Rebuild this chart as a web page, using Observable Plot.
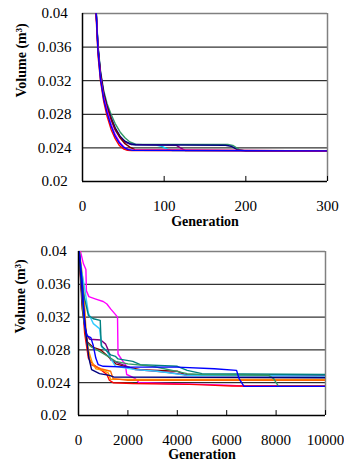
<!DOCTYPE html>
<html>
<head>
<meta charset="utf-8">
<script src="https://cdn.jsdelivr.net/npm/d3@7"></script>
<script src="https://cdn.jsdelivr.net/npm/@observablehq/plot@0.6"></script>
<style>
  html, body { margin: 0; padding: 0; background: #fff; }
  #chart svg { display: block; font-family: "Liberation Serif", serif !important; font-size: 15px; overflow: hidden; }
  #chart svg text, #chart svg g { font-family: "Liberation Serif", serif !important; }
</style>
</head>
<body>
<div id="chart"></div>
<script>
// ---------- shared labels ----------
const yLabel = "Volume (m\u00B3)";
const xLabel = "Generation";
const yTicks = [0.02, 0.024, 0.028, 0.032, 0.036, 0.04];
const yTickLabels = ["0.02", "0.024", "0.028", "0.032", "0.036", "0.04"];
const yGrid = [0.024, 0.028, 0.032, 0.036];

// ---------- top chart (0-300 generations) ----------
const topXTicks = [0, 100, 200, 300];
const topRed = [[15,0.042],[17,0.039],[19,0.035],[22,0.032],[26,0.0295],[30,0.0278],[35,0.0262],[40,0.0251],[45,0.0243],[50,0.0239],[55,0.02372],[60,0.02368],[300,0.02365]];
const topMagenta = [[15,0.042],[17,0.0395],[19,0.0356],[22,0.0324],[26,0.0300],[30,0.0285],[35,0.0268],[40,0.0256],[46,0.0246],[52,0.0240],[58,0.02375],[300,0.02365]];
const topMaroon = [[15,0.042],[17,0.0397],[19,0.0358],[22,0.0327],[26,0.0303],[30,0.0288],[35,0.0274],[40,0.0262],[46,0.0252],[52,0.0245],[58,0.0241],[64,0.0238],[300,0.02365]];
const topNavy = [[15,0.042],[17,0.0398],[19,0.036],[22,0.033],[26,0.0305],[30,0.029],[35,0.0276],[40,0.0264],[46,0.0254],[52,0.0248],[58,0.0245],[65,0.02438],[120,0.02435],[175,0.02432],[182,0.0242],[190,0.02375],[200,0.02365],[300,0.02365]];
const topPurple = [[15,0.042],[17,0.0397],[19,0.0359],[22,0.0329],[26,0.0304],[30,0.0289],[35,0.0275],[40,0.0263],[46,0.0253],[52,0.0247],[60,0.0244],[115,0.0243],[120,0.0240],[126,0.02368],[300,0.02365]];
const topCyan = [[15,0.042],[17,0.0398],[19,0.036],[22,0.0328],[26,0.0303],[30,0.0287],[35,0.0272],[40,0.0261],[46,0.0252],[52,0.0247],[60,0.0244],[90,0.02435],[97,0.0242],[105,0.0238],[110,0.02368],[300,0.02365]];
const topGreen = [[15,0.042],[17,0.04],[19,0.0362],[22,0.0332],[26,0.0308],[30,0.0293],[35,0.028],[40,0.0269],[46,0.0259],[52,0.0252],[58,0.0247],[65,0.02445],[120,0.02442],[178,0.0244],[184,0.0243],[192,0.0238],[200,0.02365],[300,0.02365]];
const topBlue = [[15,0.042],[17,0.0395],[19,0.0355],[22,0.0322],[26,0.0298],[30,0.0282],[35,0.0266],[40,0.0254],[45,0.0246],[50,0.0241],[56,0.0238],[62,0.0237],[300,0.02365]];
const topSeries = [
  ["#339966", topGreen], ["#00ccff", topCyan], ["#800080", topPurple], ["#000080", topNavy],
  ["#800000", topMaroon], ["#ff00ff", topMagenta], ["#ff0000", topRed], ["#0000ff", topBlue]
];

// ---------- bottom chart (0-10000 generations) ----------
const botXTicks = [0, 2000, 4000, 6000, 8000, 10000];
const botMagenta = [[0,0.041],[200,0.0385],[300,0.0378],[320,0.0352],[420,0.0345],[700,0.0342],[1000,0.0339],[1150,0.0336],[1300,0.0330],[1500,0.0323],[1580,0.0320],[1600,0.0275],[1800,0.0266],[1900,0.0262],[1950,0.0250],[2100,0.0248],[2300,0.0245],[2450,0.0240],[3500,0.0239],[5000,0.0238],[6000,0.0237],[6600,0.0236],[10000,0.0236]];
const botRed = [[0,0.041],[150,0.034],[250,0.030],[400,0.0270],[600,0.0262],[900,0.0256],[1150,0.0250],[1250,0.0243],[1400,0.0240],[2200,0.0239],[4500,0.0238],[5300,0.0237],[6200,0.0236],[10000,0.0236]];
const botNavy = [[0,0.041],[150,0.035],[300,0.030],[420,0.0270],[530,0.0256],[850,0.0251],[1250,0.0249],[1420,0.0247],[10000,0.0246]];
const botPurple = [[0,0.041],[150,0.034],[300,0.0300],[450,0.0293],[900,0.0292],[1100,0.0287],[1200,0.0280],[1300,0.0268],[1700,0.0263],[2300,0.0256],[3500,0.0253],[4500,0.0249],[10000,0.0248]];
const botMaroon = [[0,0.041],[150,0.033],[350,0.0290],[600,0.0283],[900,0.0280],[1200,0.0272],[1500,0.0263],[2000,0.0259],[2500,0.0256],[4000,0.0254],[4300,0.0250],[10000,0.0249]];
const botOrange = [[0,0.041],[200,0.036],[300,0.0305],[400,0.0280],[550,0.0265],[700,0.0257],[1000,0.0255],[1200,0.0252],[1300,0.0244],[10000,0.0244]];
const botDarkOrange = [[0,0.041],[200,0.035],[300,0.0300],[400,0.0275],[500,0.0262],[900,0.0257],[1300,0.0254],[1400,0.0245],[2000,0.0243],[10000,0.0243]];
const botCyan = [[0,0.041],[100,0.038],[250,0.0355],[400,0.0325],[600,0.0312],[850,0.0306],[950,0.0283],[1150,0.0279],[1250,0.0272],[1500,0.0260],[2300,0.0256],[3200,0.0254],[4400,0.0249],[10000,0.0248]];
const botTeal = [[0,0.041],[200,0.0349],[400,0.0322],[600,0.0318],[880,0.0316],[920,0.0285],[1300,0.0274],[1500,0.0272],[1600,0.0269],[2200,0.0266],[2500,0.0262],[4000,0.0260],[4400,0.0255],[5000,0.0251],[10000,0.0250]];
const botSeaGreen = [[0,0.041],[200,0.032],[350,0.0288],[550,0.0283],[800,0.0279],[1200,0.0272],[1500,0.0266],[2000,0.0263],[3000,0.0260],[4400,0.0251],[5000,0.0250],[7700,0.0249],[7900,0.0245],[8100,0.02355],[10000,0.02355]];
const botBlue = [[0,0.041],[150,0.036],[250,0.031],[350,0.0297],[500,0.0295],[600,0.0285],[700,0.0270],[800,0.0262],[1000,0.0260],[2000,0.0259],[4000,0.0259],[5500,0.0257],[6400,0.0255],[6500,0.0245],[6700,0.02355],[10000,0.02355]];
const botSeries = [
  ["#ff00ff", botMagenta], ["#ff0000", botRed], ["#ff9900", botOrange], ["#ff6600", botDarkOrange],
  ["#800000", botMaroon], ["#800080", botPurple], ["#33ccff", botCyan], ["#008080", botTeal],
  ["#339966", botSeaGreen], ["#000080", botNavy], ["#0000ff", botBlue]
];

const FONT = "Liberation Serif";

function toRows(series) {
  const rows = [];
  series.forEach(([color, pts], i) => pts.forEach(([g, v]) => rows.push({s: i, color, g, v})));
  return rows;
}

function chart({height, marginTop, marginBottom, marginLeft, marginRight, xDomain, xTicks, series, yPad, xPad, labelDy, labelDx}) {
  const rows = toRows(series);
  return Plot.plot({
    width: 344, height, marginTop, marginBottom, marginLeft, marginRight,
    x: {domain: xDomain},
    y: {domain: [0.02, 0.04]},
    marks: [
      Plot.ruleY(yGrid, {stroke: "#000", strokeWidth: 1}),
      Plot.ruleY([0.04], {stroke: "#808080", strokeWidth: 1.5}),
      Plot.ruleX([xDomain[1]], {stroke: "#808080", strokeWidth: 1.5}),
      Plot.line(rows, {x: "g", y: "v", z: "s", stroke: "color", strokeWidth: 1.4, clip: true}),
      Plot.ruleX(xTicks, {y1: 0.02, y2: 0.0206, stroke: "#000", strokeWidth: 1}),
      Plot.ruleX([xDomain[0]], {stroke: "#000", strokeWidth: 1.5}),
      Plot.ruleY([0.02], {stroke: "#000", strokeWidth: 1.5}),
      Plot.axisY({ticks: yTicks, tickSize: 0, tickPadding: yPad, textAnchor: "middle", fontSize: 15, fontFamily: FONT,
        tickFormat: d => yTickLabels[yTicks.indexOf(d)], label: null}),
      Plot.axisX({ticks: xTicks, tickSize: 0, tickPadding: xPad, fontSize: 15, fontFamily: FONT, tickFormat: d => String(d), label: null}),
      Plot.text([yLabel], {frameAnchor: "left", dx: labelDx, rotate: -90, fontWeight: "bold", fontSize: 14, fontFamily: FONT}),
      Plot.text([xLabel], {frameAnchor: "bottom", dy: labelDy, fontWeight: "bold", fontSize: 14, fontFamily: FONT})
    ]
  });
}

const root = document.getElementById("chart");
root.append(chart({height: 229, marginTop: 13, marginBottom: 48, marginLeft: 82, marginRight: 17,
  xDomain: [0, 300], xTicks: topXTicks, series: topSeries, yPad: 28, xPad: 19, labelDy: 44, labelDx: -61}));
root.append(chart({height: 237, marginTop: 22, marginBottom: 51, marginLeft: 78, marginRight: 19,
  xDomain: [0, 10000], xTicks: botXTicks, series: botSeries, yPad: 25, xPad: 19, labelDy: 43, labelDx: -58}));
</script>
</body>
</html>
